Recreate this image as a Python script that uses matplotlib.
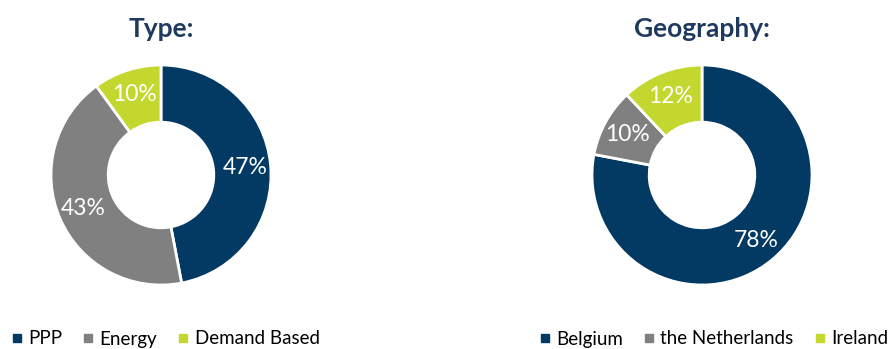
import matplotlib
matplotlib.use("Agg")
import matplotlib.pyplot as plt
from matplotlib.lines import Line2D

plt.rcParams["font.family"] = ["Lato", "DejaVu Sans"]

# portfolio split by type
type_labels = ["PPP", "Energy", "Demand Based"]
type_shares = [47, 43, 10]

# portfolio split by geography
geo_labels = ["Belgium", "the Netherlands", "Ireland"]
geo_shares = [78, 10, 12]

colors = ["#023a63", "#808080", "#c4d72f"]
title_color = "#1f3a5f"

W, H = 888, 349
fig = plt.figure(figsize=(W / 100, H / 100), dpi=100)


def donut(cx, cy, r, values, title, labels, legend_x):
    ax = fig.add_axes([(cx - r) / W, (H - cy - r) / H, 2 * r / W, 2 * r / H])
    ax.pie(values, colors=colors, startangle=90, counterclock=False,
           radius=1.0, wedgeprops=dict(width=0.52, edgecolor="white", linewidth=2),
           autopct="%d%%", pctdistance=0.77,
           textprops=dict(color="white", fontsize=16.5))
    ax.set_xlim(-1, 1)
    ax.set_ylim(-1, 1)
    ax.set_aspect("equal")
    ax.axis("off")
    fig.text(cx / W, 1 - 29 / H, title, ha="center", va="center",
             fontsize=19, fontweight="bold", color=title_color)
    handles = [Line2D([], [], marker="s", linestyle="none", markersize=6,
                      markerfacecolor=c, markeredgecolor=c) for c in colors]
    fig.legend(handles, labels, loc="center left", ncol=3, frameon=False,
               bbox_to_anchor=(legend_x / W, 1 - 339 / H), fontsize=13.5,
               handletextpad=0.25, columnspacing=1.05, handlelength=0.7,
               borderaxespad=0, borderpad=0)


donut(161, 175, 110, type_shares, "Type:", type_labels, 10)
donut(702, 175, 110, geo_shares, "Geography:", geo_labels, 538)

fig.savefig("out.png", dpi=100, facecolor="white")
